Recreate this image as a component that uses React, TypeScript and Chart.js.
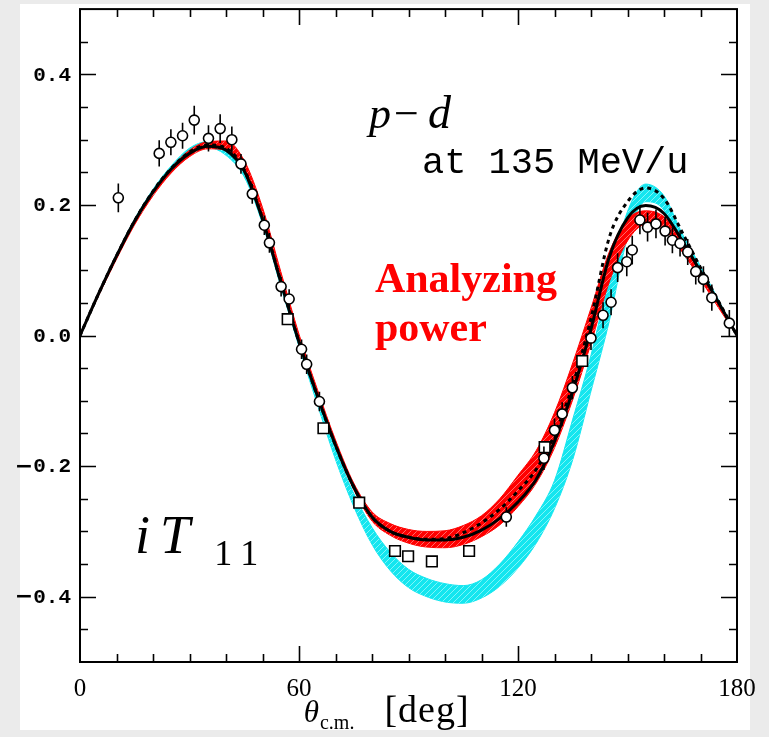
import React, { useEffect, useRef } from 'react';
import { Chart, registerables } from 'chart.js';

Chart.register(...registerables);

const W = 769;
const H = 737;

// ---- data ----
const thetaGrid = [0, 5, 10, 15, 20, 25, 30, 35, 40, 45, 50, 55, 60, 65, 70, 75, 80, 85, 90, 95, 100, 105, 110, 115, 120, 125, 130, 135, 140, 145, 150, 155, 160, 165, 170, 175, 180];

const solidAy = [0, 0.063, 0.122, 0.176, 0.220, 0.255, 0.279, 0.290, 0.284, 0.252, 0.178, 0.082, -0.010, -0.092, -0.168, -0.232, -0.278, -0.300, -0.309, -0.313, -0.313, -0.309, -0.298, -0.280, -0.255, -0.220, -0.162, -0.085, 0.010, 0.120, 0.180, 0.199, 0.187, 0.145, 0.098, 0.050, 0];

const dottedAy = [0, 0.063, 0.122, 0.176, 0.221, 0.256, 0.281, 0.292, 0.287, 0.254, 0.179, 0.083, -0.010, -0.092, -0.168, -0.232, -0.278, -0.300, -0.309, -0.312, -0.311, -0.302, -0.287, -0.266, -0.238, -0.205, -0.152, -0.076, 0.026, 0.150, 0.205, 0.226, 0.210, 0.158, 0.104, 0.052, 0];

const redLow = [0, 0.060, 0.117, 0.170, 0.214, 0.249, 0.274, 0.286, 0.284, 0.254, 0.182, 0.086, -0.008, -0.092, -0.170, -0.236, -0.284, -0.306, -0.318, -0.324, -0.325, -0.320, -0.308, -0.290, -0.262, -0.226, -0.172, -0.098, -0.012, 0.082, 0.145, 0.170, 0.163, 0.128, 0.086, 0.042, 0];
const redHigh = [0, 0.064, 0.123, 0.177, 0.221, 0.257, 0.284, 0.297, 0.298, 0.268, 0.196, 0.098, 0.002, -0.082, -0.160, -0.226, -0.270, -0.288, -0.297, -0.300, -0.299, -0.291, -0.276, -0.250, -0.214, -0.176, -0.118, -0.042, 0.042, 0.128, 0.178, 0.191, 0.182, 0.146, 0.100, 0.052, 0];

const cyanLow = [0, 0.061, 0.119, 0.173, 0.217, 0.253, 0.279, 0.288, 0.276, 0.243, 0.171, 0.075, -0.017, -0.105, -0.190, -0.262, -0.320, -0.360, -0.386, -0.400, -0.408, -0.410, -0.402, -0.384, -0.356, -0.318, -0.265, -0.190, -0.085, 0.022, 0.150, 0.205, 0.192, 0.128, 0.090, 0.046, 0];
const cyanHigh = [0, 0.064, 0.124, 0.179, 0.224, 0.260, 0.287, 0.297, 0.284, 0.251, 0.179, 0.083, -0.009, -0.094, -0.175, -0.242, -0.294, -0.332, -0.358, -0.372, -0.380, -0.383, -0.374, -0.350, -0.316, -0.275, -0.222, -0.128, -0.030, 0.088, 0.190, 0.232, 0.214, 0.156, 0.106, 0.054, 0];

const circleTheta = [10.5, 21.7, 24.9, 28.1, 31.3, 35.2, 38.4, 41.6, 44.1, 47.2, 50.5, 51.9, 55.1, 57.3, 60.7, 62.1, 65.6, 116.8, 127.1, 130.0, 132.1, 134.9, 140.0, 143.3, 145.5, 147.3, 149.8, 151.3, 153.4, 155.5, 157.8, 160.3, 162.3, 164.4, 166.5, 168.7, 170.8, 173.1, 177.9];
const circleAy = [0.211, 0.279, 0.296, 0.306, 0.330, 0.302, 0.317, 0.300, 0.263, 0.217, 0.169, 0.142, 0.075, 0.056, -0.021, -0.044, -0.101, -0.278, -0.188, -0.145, -0.120, -0.080, -0.004, 0.031, 0.051, 0.104, 0.113, 0.131, 0.177, 0.166, 0.171, 0.160, 0.146, 0.141, 0.128, 0.098, 0.086, 0.058, 0.019];
const circleErr = [0.022, 0.020, 0.020, 0.020, 0.022, 0.020, 0.022, 0.020, 0.015, 0.015, 0.015, 0.015, 0.015, 0.015, 0.015, 0.015, 0.015, 0.015, 0.018, 0.018, 0.018, 0.018, 0.018, 0.020, 0.020, 0.022, 0.022, 0.022, 0.022, 0.022, 0.022, 0.022, 0.020, 0.020, 0.020, 0.020, 0.020, 0.020, 0.020];

const squareTheta = [56.9, 66.7, 76.5, 86.3, 89.9, 96.4, 106.6, 127.3, 137.6];
const squareAy = [0.025, -0.142, -0.256, -0.330, -0.338, -0.346, -0.330, -0.171, -0.039];

const X_MIN = 0, X_MAX = 180, Y_MIN = -0.5, Y_MAX = 0.5;

const toPts = (xs: number[], ys: number[]) => xs.map((x, i) => ({ x, y: ys[i] }));

function hatch(color: string, stripe: string) {
  const c = document.createElement('canvas');
  c.width = 6;
  c.height = 6;
  const g = c.getContext('2d')!;
  g.fillStyle = color;
  g.fillRect(0, 0, 6, 6);
  g.strokeStyle = stripe;
  g.lineWidth = 1;
  g.beginPath();
  g.moveTo(0, 6); g.lineTo(6, 0);
  g.moveTo(-1, 1); g.lineTo(1, -1);
  g.moveTo(5, 7); g.lineTo(7, 5);
  g.stroke();
  return g.createPattern(c, 'repeat')!;
}

const SERIF = '"Liberation Serif", "DejaVu Serif", serif';
const MONO = '"Liberation Mono", "DejaVu Sans Mono", monospace';

const errorBarPlugin = {
  id: 'errorBars',
  beforeDatasetDraw(chart: any, args: any) {
    const ds = chart.data.datasets[args.index];
    if (ds.label !== 'circles') return;
    const xs = chart.scales.x, ys = chart.scales.y;
    const ctx = chart.ctx;
    ctx.save();
    ctx.strokeStyle = '#000';
    ctx.lineWidth = 1.6;
    ctx.beginPath();
    circleTheta.forEach((t, i) => {
      const px = xs.getPixelForValue(t);
      ctx.moveTo(px, ys.getPixelForValue(circleAy[i] - circleErr[i]));
      ctx.lineTo(px, ys.getPixelForValue(circleAy[i] + circleErr[i]));
    });
    ctx.stroke();
    ctx.restore();
  },
};

const framePlugin = {
  id: 'frameTicks',
  afterDraw(chart: any) {
    const { left, right, top, bottom } = chart.chartArea;
    const xs = chart.scales.x, ys = chart.scales.y;
    const ctx = chart.ctx;
    ctx.save();
    ctx.strokeStyle = '#000';
    ctx.lineWidth = 1.6;
    ctx.beginPath();
    for (let v = X_MIN + 10; v < X_MAX; v += 10) {
      const len = v % 60 === 0 ? 16 : 8;
      const px = Math.round(xs.getPixelForValue(v)) + 0.5;
      ctx.moveTo(px, bottom); ctx.lineTo(px, bottom - len);
      ctx.moveTo(px, top); ctx.lineTo(px, top + len);
    }
    for (let k = -9; k <= 9; k++) {
      const v = k * 0.05;
      const len = k % 4 === 0 ? 16 : 8;
      const py = Math.round(ys.getPixelForValue(v)) + 0.5;
      ctx.moveTo(left, py); ctx.lineTo(left + len, py);
      ctx.moveTo(right, py); ctx.lineTo(right - len, py);
    }
    ctx.stroke();
    ctx.lineWidth = 2;
    ctx.strokeRect(left, top, right - left, bottom - top);

    // y tick labels taken from the y scale's ticks
    ctx.fillStyle = '#000';
    ctx.textAlign = 'right';
    ctx.textBaseline = 'middle';
    ys.ticks.forEach((t: any) => {
      const v = t.value;
      const k = Math.round(v / 0.2);
      if (Math.abs(v - k * 0.2) > 1e-6) return;
      const py = ys.getPixelForValue(v) + 1;
      const s = Math.abs(k * 0.2).toFixed(1);
      ctx.font = `bold 21px ${MONO}`;
      ctx.fillText(s, left - 9, py);
      if (k < 0) {
        const w = ctx.measureText(s).width;
        ctx.font = `bold 22px "DejaVu Sans", sans-serif`;
        ctx.fillText('\u2212', left - 9 - w, py);
      }
    });

    // axis title: theta_c.m. [deg]
    ctx.textBaseline = 'alphabetic';
    ctx.textAlign = 'left';
    let tx = xs.getPixelForValue(61.3);
    const ty = bottom + 60;
    ctx.font = `italic 31px ${SERIF}`;
    ctx.fillText('θ', tx, ty);
    tx += ctx.measureText('θ').width + 1;
    ctx.font = `20px ${SERIF}`;
    ctx.fillText('c.m.', tx, ty + 7);
    tx += ctx.measureText('c.m.').width + 30;
    ctx.font = `38px ${SERIF}`;
    (ctx as any).letterSpacing = '1px';
    ctx.fillText('[deg]', tx, ty);
    (ctx as any).letterSpacing = '0px';

    // annotations
    const X = (v: number) => xs.getPixelForValue(v);
    const Y = (v: number) => ys.getPixelForValue(v);
    ctx.font = `italic 44px ${SERIF}`;
    let px = X(79.2);
    ctx.fillText('p', px, Y(0.318));
    px += ctx.measureText('p').width + 3;
    ctx.font = `44px ${SERIF}`;
    ctx.fillText('\u2212', px, Y(0.318));
    px += ctx.measureText('\u2212').width + 9;
    ctx.font = `italic 46px ${SERIF}`;
    ctx.fillText('d', px, Y(0.318));

    ctx.font = `37px ${MONO}`;
    ctx.fillText('at 135 MeV/u', X(93.7), Y(0.249));
    ctx.fillStyle = '#ff0000';
    ctx.font = `bold 42px ${SERIF}`;
    ctx.fillText('Analyzing', X(80.8), Y(0.067));
    ctx.fillText('power', X(80.8), Y(-0.008));
    ctx.fillStyle = '#000';
    ctx.font = `italic 54px ${SERIF}`;
    let ix = X(15.1);
    ctx.fillText('i', ix, Y(-0.333));
    ix += ctx.measureText('i').width + 10;
    ctx.fillText('T', ix, Y(-0.333));
    ix += ctx.measureText('T').width;
    ctx.font = `36px ${SERIF}`;
    ctx.fillText('1', ix + 24, Y(-0.352));
    ctx.fillText('1', ix + 50, Y(-0.352));
    ctx.restore();
  },
};

export default function App() {
  const ref = useRef<HTMLCanvasElement>(null);

  useEffect(() => {
    document.body.style.margin = '0';
    document.body.style.background = '#ebebeb';
    const canvas = ref.current!;
    const red = '#ff0000';
    const cyan = '#14e6ef';
    const redPat = hatch(red, 'rgba(255,190,190,0.55)');
    const cyanPat = hatch(cyan, 'rgba(200,255,255,0.6)');

    const band = (label: string, ys: number[], color: string, fill: any, bg: any, order: number) => ({
      label,
      data: toPts(thetaGrid, ys),
      borderColor: color,
      borderWidth: 1,
      pointRadius: 0,
      fill,
      backgroundColor: bg,
      cubicInterpolationMode: 'monotone',
      order,
    });

    const chart = new Chart(canvas, {
      type: 'line',
      data: {
        datasets: [
          band('cyanLow', cyanLow, cyan, false, 'transparent', 20),
          band('cyanHigh', cyanHigh, cyan, '-1', cyanPat, 19),
          band('redLow', redLow, red, false, 'transparent', 18),
          band('redHigh', redHigh, red, '-1', redPat, 17),
          {
            label: 'solid',
            data: toPts(thetaGrid, solidAy),
            borderColor: '#000',
            borderWidth: 3,
            pointRadius: 0,
            fill: false,
            cubicInterpolationMode: 'monotone',
            order: 4,
          },
          {
            label: 'dotted',
            data: toPts(thetaGrid, dottedAy),
            borderColor: '#000',
            borderWidth: 3,
            borderDash: [4, 4],
            pointRadius: 0,
            fill: false,
            cubicInterpolationMode: 'monotone',
            order: 3,
          },
          {
            label: 'squares',
            data: toPts(squareTheta, squareAy),
            showLine: false,
            pointStyle: 'rect',
            pointRadius: 7.5,
            pointBackgroundColor: '#fff',
            pointBorderColor: '#000',
            pointBorderWidth: 1.6,
            order: 1,
          },
          {
            label: 'circles',
            data: toPts(circleTheta, circleAy),
            showLine: false,
            pointStyle: 'circle',
            pointRadius: 5,
            pointBackgroundColor: '#fff',
            pointBorderColor: '#000',
            pointBorderWidth: 1.6,
            order: 0,
          },
        ] as any,
      },
      options: {
        animation: false,
        responsive: false,
        devicePixelRatio: 1,
        layout: { padding: { top: 8, right: 32, bottom: 0, left: 0 } },
        plugins: { legend: { display: false }, tooltip: { enabled: false } },
        scales: {
          x: {
            type: 'linear',
            min: X_MIN,
            max: X_MAX,
            grid: { display: false, drawTicks: false },
            border: { display: false },
            ticks: {
              stepSize: 60,
              autoSkip: false,
              maxRotation: 0,
              padding: 12,
              color: '#000',
              font: { family: SERIF, size: 25 },
            },
            afterFit: (s: any) => { s.height = 75; },
          },
          y: {
            type: 'linear',
            min: Y_MIN,
            max: Y_MAX,
            grid: { display: false, drawTicks: false },
            border: { display: false },
            ticks: { stepSize: 0.1, display: false },
            afterFit: (s: any) => { s.width = 80; },
          },
        },
      } as any,
      plugins: [errorBarPlugin, framePlugin],
    });
    return () => chart.destroy();
  }, []);

  return (
    <div style={{ position: 'relative', width: W, height: H, background: '#ebebeb', overflow: 'hidden' }}>
      <div style={{ position: 'absolute', left: 20, top: 4, width: 730, height: 726, background: '#fff' }} />
      <canvas ref={ref} width={W} height={H} style={{ position: 'absolute', left: 0, top: 0, width: W, height: H }} />
    </div>
  );
}
